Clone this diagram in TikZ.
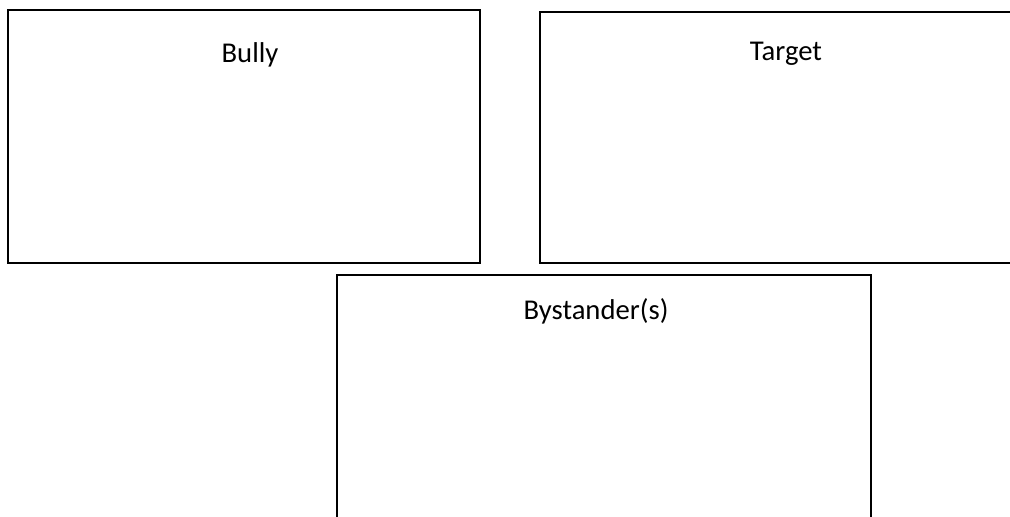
\documentclass[tikz,border=0pt]{standalone}
\usepackage{fontspec}
\setmainfont{Carlito}
\begin{document}
\begin{tikzpicture}[x=0.75pt,y=-0.75pt,
  panel/.style={draw=black,line width=2.1pt,fill=none},
  lbl/.style={anchor=base,inner sep=0pt,font=\fontsize{21.5}{25}\selectfont}]
\useasboundingbox (0,0) rectangle (1010,517);
\begin{scope}
\clip (0,0) rectangle (1010,517);
\draw[panel] (8,10) rectangle (480,263);
\draw[panel] (540,12) rectangle (1040,263);
\draw[panel] (337,275) rectangle (871,540);
\end{scope}
\node[lbl] (bully) at (250,63) {Bully};
\node[lbl] (target) at (786,61) {Target};
\node[lbl] (bystander) at (596,319) {Bystander(s)};
\end{tikzpicture}
\end{document}
